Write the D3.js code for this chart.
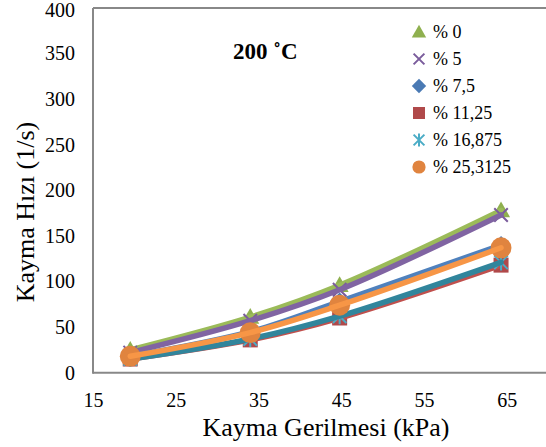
<!DOCTYPE html>
<html>
<head>
<meta charset="UTF-8">
<script src="https://d3js.org/d3.v7.min.js"></script>
<style>
  body { margin: 0; background: #fff; }
</style>
</head>
<body>
<script>
  // data
  var stress = [19.5, 34, 44.8, 64.3];
  var labels = ["% 0", "% 5", "% 7,5", "% 11,25", "% 16,875", "% 25,3125"];
  var rate0 = [25, 61, 96, 178];
  var rate5 = [22, 57, 91, 173];
  var rate75 = [18, 45, 78, 140];
  var rate1125 = [15, 36, 60, 118];
  var rate16875 = [15, 37, 62, 121];
  var rate253125 = [18, 44, 74, 137];
  var xTicks = [15, 25, 35, 45, 55, 65];
  var yTicks = [0, 50, 100, 150, 200, 250, 300, 350, 400];

  var width = 546, height = 447;
  var serif = '"Liberation Serif", "Times New Roman", serif';
  var svg = d3.select('body').append('svg').attr('width', width).attr('height', height)
    .attr('font-family', serif);

  var x = d3.scaleLinear().domain([15, 75]).range([93, 589.6]);
  var y = d3.scaleLinear().domain([0, 400]).range([372.7, 8]);

  var series = [
    {name: labels[0], vals: rate0, line: '#9bbb59', mark: '#8fb04f', shape: 'tri'},
    {name: labels[1], vals: rate5, line: '#8064a2', mark: '#7a5c9c', shape: 'x'},
    {name: labels[2], vals: rate75, line: '#4f81bd', mark: '#4a7ab4', shape: 'dia'},
    {name: labels[3], vals: rate1125, line: '#c0504d', mark: '#b0494a', shape: 'sq'},
    {name: labels[4], vals: rate16875, line: '#31859c', mark: '#4bacc6', shape: 'star'},
    {name: labels[5], vals: rate253125, line: '#f79646', mark: '#e0843f', shape: 'circ'}
  ];

  // axis frame
  var g = svg.append('g');
  g.append('line').attr('x1', 93).attr('x2', width).attr('y1', 8).attr('y2', 8)
    .attr('stroke', '#888').attr('stroke-width', 2);
  g.append('line').attr('x1', 93).attr('x2', width).attr('y1', 372.7).attr('y2', 372.7)
    .attr('stroke', '#888').attr('stroke-width', 2);
  g.append('line').attr('x1', 93).attr('x2', 93).attr('y1', 8).attr('y2', 373.7)
    .attr('stroke', '#888').attr('stroke-width', 2);

  var xAxis = svg.append('g').attr('transform', 'translate(0,372.7)')
    .call(d3.axisBottom(x).tickValues(xTicks).tickSize(0).tickPadding(20));
  xAxis.select('.domain').remove();
  xAxis.attr('font-family', serif);
  xAxis.selectAll('text').style('font-size', '20px').style('font-family', serif).attr('fill', '#000');

  var yAxis = svg.append('g').attr('transform', 'translate(93,0)')
    .call(d3.axisLeft(y).tickValues(yTicks).tickSize(0).tickPadding(18));
  yAxis.select('.domain').remove();
  yAxis.attr('font-family', serif);
  yAxis.selectAll('text').style('font-size', '20px').style('font-family', serif).attr('fill', '#000')
    .attr('dy', function(d) { return d == 400 ? '0.42em' : '0.32em'; });

  function drawMarker(sel, shape, color, s) {
    if (shape == 'tri') {
      sel.append('path').attr('d', 'M0,' + (-s*0.6) + 'L' + (s*0.6) + ',' + (s*0.45) + 'L' + (-s*0.6) + ',' + (s*0.45) + 'Z').attr('fill', color);
    } else if (shape == 'dia') {
      sel.append('path').attr('d', 'M0,' + (-s*0.6) + 'L' + (s*0.6) + ',0L0,' + (s*0.6) + 'L' + (-s*0.6) + ',0Z').attr('fill', color);
    } else if (shape == 'sq') {
      sel.append('rect').attr('x', -s/2).attr('y', -s/2).attr('width', s).attr('height', s).attr('fill', color);
    } else if (shape == 'circ') {
      sel.append('circle').attr('r', s*0.55).attr('fill', color);
    } else {
      var h = s*0.45;
      var d = 'M' + (-h) + ',' + (-h) + 'L' + h + ',' + h + 'M' + h + ',' + (-h) + 'L' + (-h) + ',' + h;
      if (shape == 'star') d += 'M0,' + (-h*1.2) + 'L0,' + (h*1.2);
      sel.append('path').attr('d', d).attr('stroke', color).attr('stroke-width', 2).attr('fill', 'none');
    }
  }

  var line = d3.line()
    .x(function(d, i) { return x(stress[i]); })
    .y(function(d) { return y(d); })
    .curve(d3.curveCatmullRom.alpha(0.5));

  series.forEach(function(s) {
    var sg = svg.append('g');
    var big = s.shape == 'circ' ? 19 : 15;
    s.vals.forEach(function(v, i) {
      var m = sg.append('g').attr('transform', 'translate(' + x(stress[i]) + ',' + y(v) + ')');
      drawMarker(m, s.shape, s.mark, big);
    });
    sg.append('path').datum(s.vals).attr('d', line)
      .attr('fill', 'none').attr('stroke', s.line).attr('stroke-width', 5.5)
      .attr('stroke-linecap', 'round');
  });

  // legend
  var leg = svg.append('g');
  series.forEach(function(s, i) {
    var ly = 32 + i * 27;
    var m = leg.append('g').attr('transform', 'translate(419,' + ly + ')');
    drawMarker(m, s.shape, s.mark, 12);
    leg.append('text').attr('x', 433).attr('y', ly + 6).style('font-size', '18px')
      .style('font-family', serif).text(s.name);
  });

  svg.append('text').attr('x', 233).attr('y', 59).style('font-size', '23px')
    .style('font-family', serif).style('font-weight', 'bold').text('200 ˚C');

  svg.append('text').attr('x', 326).attr('y', 436).attr('text-anchor', 'middle')
    .style('font-size', '26px').style('font-family', serif).text('Kayma Gerilmesi (kPa)');
  svg.append('text').attr('transform', 'translate(34,212) rotate(-90)').attr('text-anchor', 'middle')
    .style('font-size', '26px').style('font-family', serif).text('Kayma Hızı (1/s)');
</script>
</body>
</html>
